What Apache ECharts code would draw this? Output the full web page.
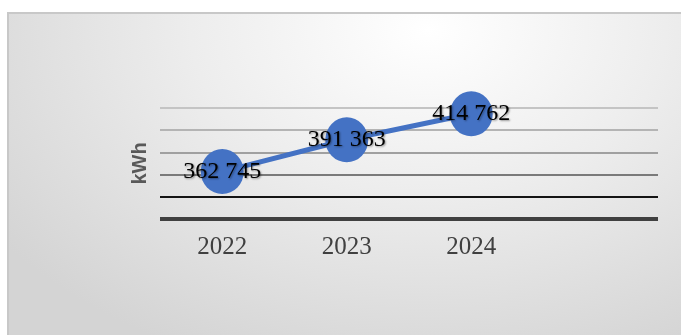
<!DOCTYPE html>
<html>
<head>
<meta charset="utf-8">
<script src="https://cdn.jsdelivr.net/npm/echarts@6/dist/echarts.min.js"></script>
<style>
  html, body { margin: 0; padding: 0; background: #ffffff; }
  #frame {
    position: absolute; left: 7px; top: 12px; width: 680px; height: 330px;
    border: 2px solid #c8c8c8; box-sizing: border-box;
    background: radial-gradient(ellipse 78% 110% at 62% 5%, #ffffff 0%, #ededed 45%, #d4d4d4 100%);
  }
  #chart { position: absolute; left: 0; top: 0; width: 681px; height: 335px; }
</style>
</head>
<body>
<div id="frame"></div>
<div id="chart"></div>
<script>
const categories = ['2022', '2023', '2024', ''];
const values = [362745, 391363, 414762, null];
const yMin = 320000;
const yMax = 420000;
const yInterval = 20000;
const gridColors = ['#404040', '#141414', '#7a7a7a', '#a0a0a0', '#b4b4b4', '#c4c4c4'];

function fmt(v) {
  return String(v).replace(/\B(?=(\d{3})+(?!\d))/g, ' ');
}

const chart = echarts.init(document.getElementById('chart'), null, { renderer: 'canvas' });
chart.setOption({
  backgroundColor: 'transparent',
  animation: false,
  grid: { left: 160, right: 23, top: 108, bottom: 116, containLabel: false },
  xAxis: {
    type: 'category',
    data: categories,
    boundaryGap: true,
    axisLine: { show: true, lineStyle: { color: '#404040', width: 4, cap: 'butt' } },
    axisTick: { show: false },
    axisLabel: {
      color: '#404040',
      fontFamily: 'Liberation Serif',
      fontSize: 25,
      margin: 16
    },
    splitLine: { show: false }
  },
  yAxis: {
    type: 'value',
    min: yMin,
    max: yMax,
    interval: yInterval,
    name: 'kWh',
    nameLocation: 'middle',
    nameGap: 10,
    nameRotate: 90,
    nameTextStyle: {
      color: '#595959',
      fontFamily: 'Liberation Sans',
      fontWeight: 'bold',
      fontSize: 20
    },
    axisLine: { show: false },
    axisTick: { show: false },
    axisLabel: { show: false },
    splitLine: { show: true, lineStyle: { color: gridColors, width: 2 } }
  },
  series: [{
    type: 'line',
    data: values,
    symbol: 'circle',
    symbolSize: [43, 45],
    itemStyle: { color: '#4472C4' },
    lineStyle: { color: '#4472C4', width: 5 },
    label: {
      show: true,
      position: 'inside',
      formatter: p => fmt(p.value),
      color: '#000000',
      fontFamily: 'Liberation Serif',
      fontSize: 24,
      textShadowColor: 'rgba(0,0,0,0.4)',
      textShadowBlur: 2,
      textShadowOffsetX: 1,
      textShadowOffsetY: 1
    }
  }]
});
</script>
</body>
</html>
